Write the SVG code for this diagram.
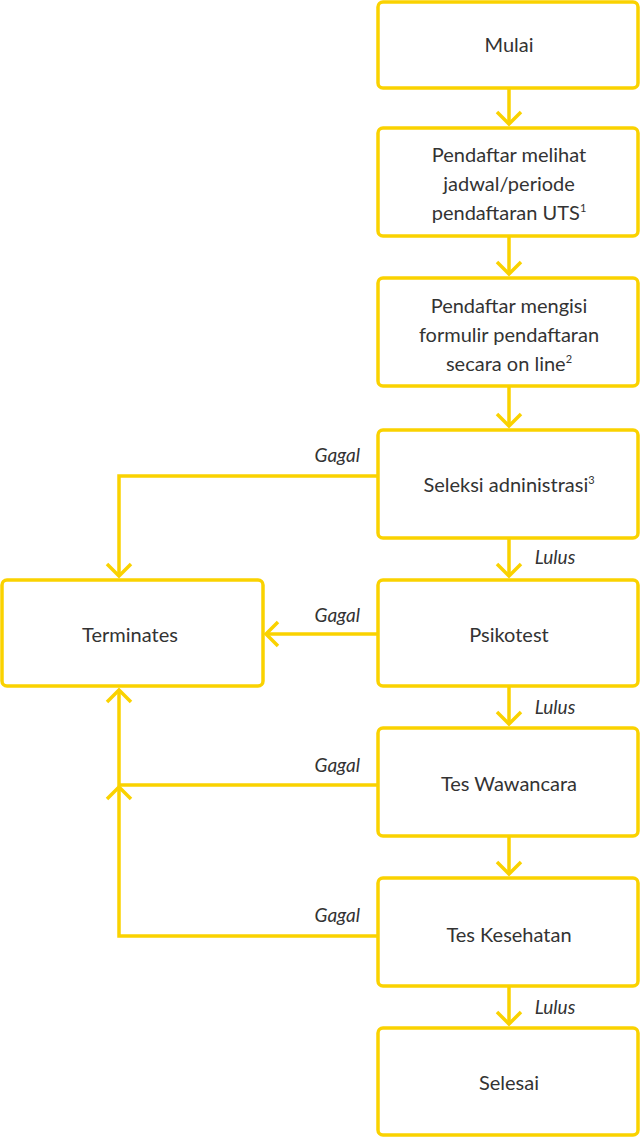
<svg xmlns="http://www.w3.org/2000/svg" width="640" height="1138" viewBox="0 0 640 1138">
<style>
.box{fill:#fff;stroke:#FAD200;stroke-width:3.5}
.ln{fill:none;stroke:#FAD200;stroke-width:3.5}
.ah{fill:none;stroke:#FAD200;stroke-width:3.5}
text{font-family:Lato,"Open Sans",sans-serif;font-size:20px;fill:#333;text-anchor:middle}
.lb{font-style:italic;font-size:19px}
.sup{font-size:11px}
</style>
<rect width="640" height="1138" fill="#fff"/>
<g id="connectors">
<path class="ln" d="M509 88V124M509 236V274M509 386V426M509 538V576M509 686V724M509 836V874M509 986V1024"/>
<path class="ah" d="M497 112L509 124L521 112M497 262L509 274L521 262M497 414L509 426L521 414M497 564L509 576L521 564M497 712L509 724L521 712M497 862L509 874L521 862M497 1012L509 1024L521 1012"/>
<path class="ln" d="M378 476H119V576"/>
<path class="ah" d="M107 564L119 576L131 564"/>
<path class="ln" d="M378 634H266"/>
<path class="ah" d="M278 622L266 634L278 646"/>
<path class="ln" d="M378 785H119V690"/>
<path class="ah" d="M107 702L119 690L131 702"/>
<path class="ln" d="M378 936H119V787"/>
<path class="ah" d="M107 799L119 787L131 799"/>
<text class="lb" x="360" y="462" text-anchor="end" style="text-anchor:end">Gagal</text>
<text class="lb" x="360" y="622" style="text-anchor:end">Gagal</text>
<text class="lb" x="360" y="772" style="text-anchor:end">Gagal</text>
<text class="lb" x="360" y="922" style="text-anchor:end">Gagal</text>
<text class="lb" x="555" y="564">Lulus</text>
<text class="lb" x="555" y="714">Lulus</text>
<text class="lb" x="555" y="1014">Lulus</text>
</g>
<g id="mulai"><rect class="box" x="378" y="2" width="260" height="86" rx="5"/><text x="509" y="52">Mulai</text></g>
<g id="jadwal"><rect class="box" x="378" y="128" width="260" height="108" rx="5"/><text x="509" y="162">Pendaftar melihat</text><text x="509" y="191">jadwal/periode</text><text x="509" y="220">pendaftaran UTS<tspan class="sup" dy="-8">1</tspan></text></g>
<g id="formulir"><rect class="box" x="378" y="278" width="260" height="108" rx="5"/><text x="509" y="313">Pendaftar mengisi</text><text x="509" y="342">formulir pendaftaran</text><text x="509" y="371">secara on line<tspan class="sup" dy="-8">2</tspan></text></g>
<g id="seleksi"><rect class="box" x="378" y="430" width="260" height="108" rx="5"/><text x="509" y="492">Seleksi adninistrasi<tspan class="sup" dy="-8">3</tspan></text></g>
<g id="terminates"><rect class="box" x="2" y="580" width="261" height="106" rx="5"/><text x="130" y="642">Terminates</text></g>
<g id="psikotest"><rect class="box" x="378" y="580" width="260" height="106" rx="5"/><text x="509" y="642">Psikotest</text></g>
<g id="wawancara"><rect class="box" x="378" y="728" width="260" height="108" rx="5"/><text x="509" y="791">Tes Wawancara</text></g>
<g id="kesehatan"><rect class="box" x="378" y="878" width="260" height="108" rx="5"/><text x="509" y="942">Tes Kesehatan</text></g>
<g id="selesai"><rect class="box" x="378" y="1028" width="260" height="107" rx="5"/><text x="509" y="1090">Selesai</text></g>
</svg>
